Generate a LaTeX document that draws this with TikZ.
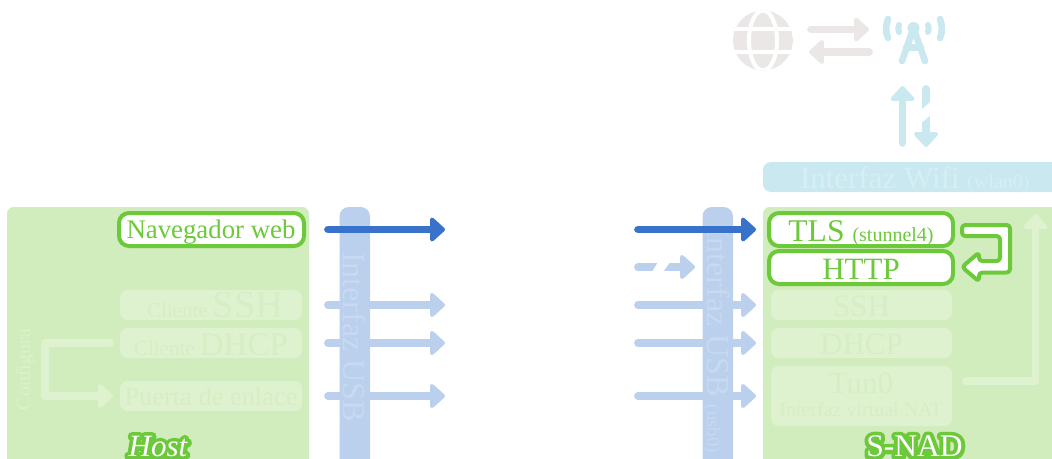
\documentclass[tikz,border=0pt]{standalone}
\usepackage{fontspec}
\setmainfont{Liberation Serif}
\usetikzlibrary{arrows.meta}
\definecolor{bgreen}{HTML}{D1ECBD}
\definecolor{fbox}{HTML}{DFF2D0}
\definecolor{ftext}{HTML}{D5EEC3}
\definecolor{ctext}{HTML}{DCF1CC}
\definecolor{lgreen}{HTML}{6CC93A}
\definecolor{bbar}{HTML}{BBD0EC}
\definecolor{btext}{HTML}{C8D9F1}
\definecolor{bdark}{HTML}{3872CB}
\definecolor{wbar}{HTML}{CAE8F0}
\definecolor{wtext}{HTML}{D6EEF4}
\definecolor{gicon}{HTML}{EBE7E7}
\newcommand{\fs}[1]{\fontsize{\fpeval{#1*0.75}pt}{\fpeval{#1*0.9}pt}\selectfont}
\newcommand{\halotext}[1]{\leavevmode\rlap{\special{pdf:code q 0.424 0.788 0.227 RG 0.424 0.788 0.227 rg 6 w 1 j 1 Tr}#1\special{pdf:code Q}}{\color{white}#1}}
\tikzset{
  x=0.75pt,y=-0.75pt,
  fadedbox/.style={fill=fbox,rounded corners=5.5,draw=none},
  livebox/.style={draw=lgreen,line width=3pt,fill=white,rounded corners=7.5},
  lbl/.style={inner sep=0,outer sep=0,anchor=base},
  arrowline/.style={line width=5.8pt,line cap=round,-{Triangle[length=12pt,width=21pt,round,line width=3pt,inset=0pt]}},
}
\begin{document}
\begin{tikzpicture}
\useasboundingbox (0,0) rectangle (1052,458);
\clip (0,0) rectangle (1052,458);
% panels
\fill[bgreen,rounded corners=5] (7,480) |- (309,207) -- (309,480) -- cycle;
\fill[bgreen,rounded corners=5] (763,480) |- (1080,207) -- (1080,480) -- cycle;
\fill[bbar,rounded corners=7] (339.5,480) |- (370,207) -- (370,480) -- cycle;
\fill[bbar,rounded corners=7] (702.5,480) |- (733,207) -- (733,480) -- cycle;
\fill[wbar,rounded corners=6] (763,162) rectangle (1080,192);
\node[lbl,text=wtext,anchor=base west] (wifi) at (800,188) {\fs{31}Interfaz Wif\kern0pt i \fs{20}(wlan0)};
\node[lbl,rotate=90,text=ctext,anchor=base west] (conf) at (30,410) {\fs{20}Configura};
% faded boxes left
\fill[fadedbox] (120,290) rectangle (302,320);
\fill[fadedbox] (120,328) rectangle (302,358);
\fill[fadedbox] (120,381) rectangle (302,411);
\node[lbl,text=ftext,anchor=base west] (sshc) at (147,317) {\fs{21}Cliente \fs{38.5}SSH};
\node[lbl,text=ftext,anchor=base west] (dhcpc) at (134,355) {\fs{21}Cliente \fs{33}DHCP};
\node[lbl,text=ftext,anchor=base west] (gw) at (124.5,405) {\fs{26.4}Puerta de enlace};
% faded boxes right
\fill[fadedbox] (771,290) rectangle (952,320);
\fill[fadedbox] (771,328) rectangle (952,358);
\fill[fadedbox] (771,366) rectangle (952,426);
\node[lbl,text=ftext] (ssh) at (861.5,316) {\fs{31}SSH};
\node[lbl,text=ftext] (dhcp) at (861.5,354) {\fs{31}DHCP};
\node[lbl,text=ftext] (tun) at (861,393) {\fs{31}Tun0};
\node[lbl,text=ftext] (nat) at (861,416) {\fs{20}Interfaz virtual NAT};
% live boxes
\draw[livebox] (119,213) rectangle (304,246);
\node[lbl,text=lgreen] (nav) at (211,238) {\fs{26.8}Navegador web};
\draw[livebox] (769,213) rectangle (953,246);
\node[lbl,text=lgreen] (tls) at (861,241) {\fs{31.6}TLS \fs{20}(stunnel4)};
\draw[livebox] (769,251) rectangle (953,284);
\node[lbl,text=lgreen] (http) at (861,279) {\fs{31}HTTP};
% TLS to HTTP arrow
\draw[draw=lgreen,line width=3pt,fill=white,rounded corners=2.5,line join=round]
  (962,225) -- (1010,225) -- (1010,272.5) -- (979,272.5) -- (979,281.5) -- (962,267) -- (979,252.5) -- (979,261) -- (1000,261) -- (1000,236) -- (962,236) -- cycle;
% faded arrows
\coordinate (a1) at (966,381); \coordinate (a2) at (1035.5,381); \coordinate (a3) at (1035.5,214);
\draw[arrowline,fbox,line join=round] (a1) -- (a2) -- (a3);
\coordinate (b1) at (110,343); \coordinate (b2) at (45,343); \coordinate (b3) at (45,396); \coordinate (b4) at (113,396);
\draw[arrowline,fbox,line join=round] (b1) -- (b2) -- (b3) -- (b4);
% USB arrows
\foreach \n/\y in {1/305,2/343,3/396}{
  \coordinate (ls\n) at (328,\y); \coordinate (le\n) at (445,\y);
  \coordinate (rs\n) at (638,\y); \coordinate (re\n) at (756,\y);
  \draw[arrowline,bbar] (ls\n) -- (le\n);
  \draw[arrowline,bbar] (rs\n) -- (re\n);
}
% broken arrow
\coordinate (ds) at (638,267); \coordinate (de) at (695,267);
\draw[arrowline,bbar] (ds) -- (de);
\fill[white] (658,262) -- (670,262) -- (663,272) -- (652,272) -- cycle;
% rotated bar labels
\node[lbl,rotate=-90,text=btext,anchor=base west] (usbl) at (343.5,252) {\fs{32}Interfaz USB};
\node[lbl,rotate=-90,text=btext,anchor=base west] (usbr) at (707,227) {\fs{32}Interfaz USB \fs{19}(usb0)};
% active arrows
\coordinate (ls0) at (328,229.5); \coordinate (le0) at (445,229.5);
\coordinate (rs0) at (638,229.5); \coordinate (re0) at (756,229.5);
\draw[arrowline,bdark] (ls0) -- (le0);
\draw[arrowline,bdark] (rs0) -- (re0);
% globe
\begin{scope}
\clip (763,40.5) circle (30);
\fill[gicon] (763,40.5) circle (30);
\draw[white,line width=3pt] (733,29) -- (793,29) (733,52) -- (793,52);
\draw[white,line width=3pt] (763,40.5) ellipse (14 and 30);
\end{scope}
% internet-antenna arrows
\coordinate (g1) at (811,29.5); \coordinate (g2) at (869,29.5);
\coordinate (g3) at (869,52); \coordinate (g4) at (809,52);
\draw[arrowline,gicon] (g1) -- (g2);
\draw[arrowline,gicon] (g3) -- (g4);
% antenna
\fill[wbar] (913.5,28) circle (6);
\draw[wbar,line width=5pt,line cap=round,line join=round] (902,61) -- (913.5,28) -- (925,61) (906,47.5) -- (921,47.5);
\draw[wbar,line width=4.5pt,line cap=round] (899,25) .. controls (898,28) and (898,30) .. (899,32);
\draw[wbar,line width=4.5pt,line cap=round] (928,25) .. controls (929,28) and (929,30) .. (928,32);
\draw[wbar,line width=5pt,line cap=round] (888,19) .. controls (885.5,26) and (885.5,32) .. (888,38);
\draw[wbar,line width=5pt,line cap=round] (940,19) .. controls (942.5,26) and (942.5,32) .. (940,38);
% wifi arrows
\coordinate (w1) at (902.5,143); \coordinate (w2) at (902.5,86);
\coordinate (w3) at (926,89); \coordinate (w4) at (926,147);
\draw[arrowline,wbar] (w1) -- (w2);
\draw[arrowline,wbar] (w3) -- (w4);
\fill[white] (920,111) -- (932,100.5) -- (932,114) -- (920,124) -- cycle;
% captions
\node[lbl,font=\itshape] (host) at (158,456.5) {\fs{31}\halotext{Host}};
\node[lbl] (snad) at (914.5,456.5) {\fs{31.5}\halotext{S-NAD}};
\end{tikzpicture}
\end{document}
